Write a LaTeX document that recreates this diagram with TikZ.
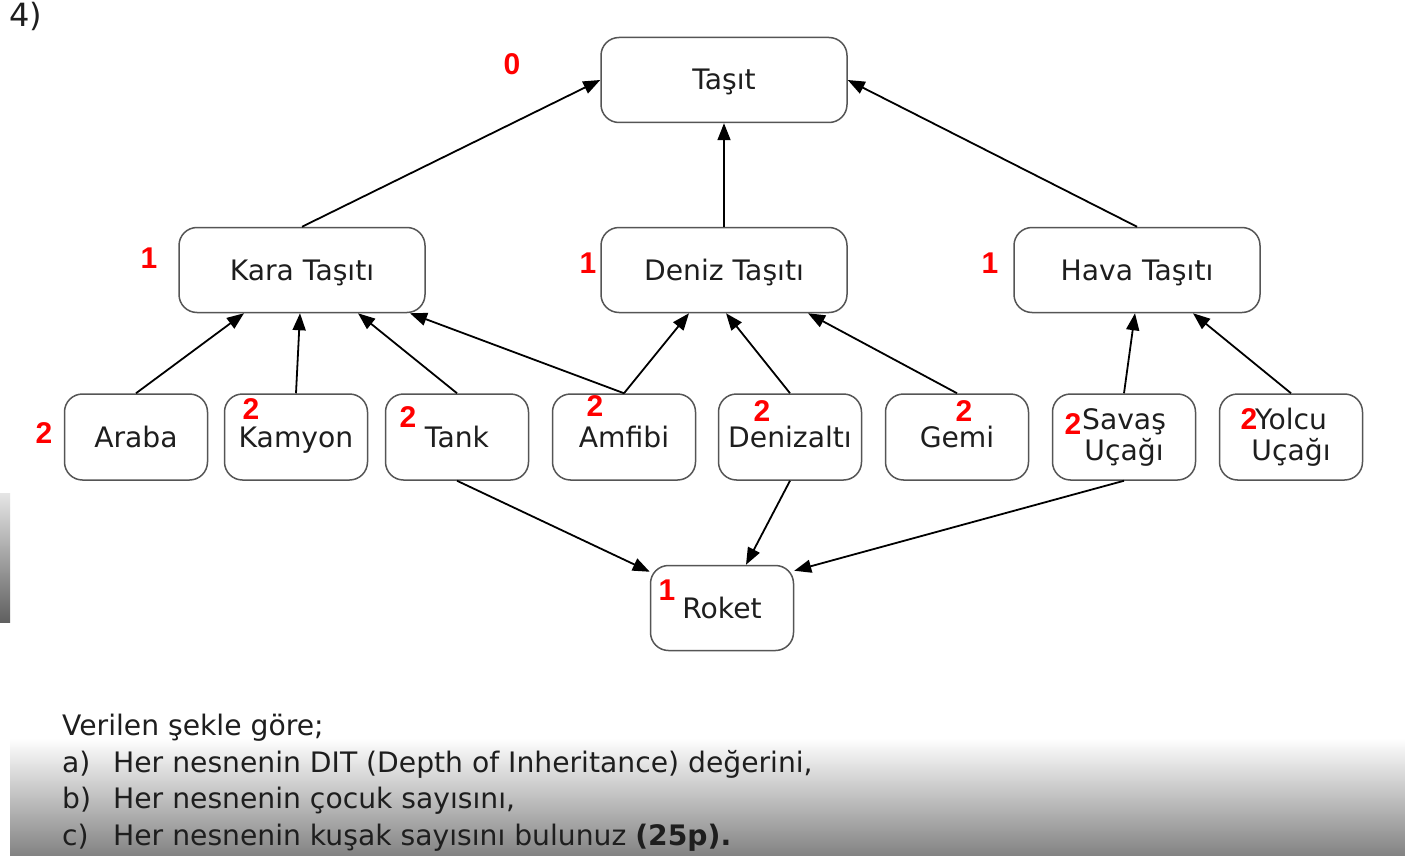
\documentclass[tikz,border=0pt]{standalone}
\usepackage{fontspec}
\setmainfont{DejaVu Sans}
\newfontfamily\numfont{Liberation Sans}
\usetikzlibrary{arrows.meta, calc}

\definecolor{boxgray}{RGB}{85,85,85}
\definecolor{shadegray}{RGB}{130,130,130}
\definecolor{textgray}{RGB}{30,30,30}

\tikzset{
  classbox/.style={draw=boxgray, line width=1.5pt, rounded corners=18pt, fill=white,
    align=center, text=textgray, font=\fontsize{28.2}{31}\selectfont},
  bigbox/.style={classbox, minimum width=246pt, minimum height=85pt, text height=20pt, text depth=0pt},
  twolinebox/.style={classbox, minimum width=143pt, minimum height=86pt},
  smallbox/.style={twolinebox, text height=20pt, text depth=0pt},
  inherit/.style={-{Triangle[length=17pt,width=13pt]}, line width=1.8pt},
  level/.style={text=red, inner sep=0pt, font=\numfont\bfseries\fontsize{30}{30}\selectfont},
  question/.style={anchor=base west, inner sep=0pt, text=textgray, font=\fontsize{28.2}{32}\selectfont}
}

\begin{document}
\begin{tikzpicture}[x=1pt, y=-1pt]
	\useasboundingbox (0,0) rectangle (1405,856);

	% Background
	\fill[white] (0,0) rectangle (1405,856);
	\shade[top color=white, bottom color=shadegray] (10,738) rectangle (1405,856);
	\shade[top color=gray!20, bottom color=gray!75!black] (0,493) rectangle (10,622);

	\node[anchor=north west, inner sep=0pt, text=textgray, font=\fontsize{32}{36}\selectfont] (num) at (9,2) {4)};

	% Boxes
	\node[bigbox] (tasit) at (724,80) {Taşıt};
	\node[bigbox] (kara) at (302,270) {Kara Taşıtı};
	\node[bigbox] (deniz) at (724,270) {Deniz Taşıtı};
	\node[bigbox] (hava) at (1137,270) {Hava Taşıtı};

	\node[smallbox] (araba) at (136,437) {Araba};
	\node[smallbox] (kamyon) at (296,437) {Kamyon};
	\node[smallbox] (tank) at (457,437) {Tank};
	\node[smallbox] (amfibi) at (624,437) {Amfibi};
	\node[smallbox] (denizalti) at (790,437) {Denizaltı};
	\node[smallbox] (gemi) at (957,437) {Gemi};
	\node[twolinebox] (savas) at (1124,437) {Savaş\\Uçağı};
	\node[twolinebox] (yolcu) at (1291,437) {Yolcu\\Uçağı};

	\node[smallbox, minimum height=85pt] (roket) at (722,608) {Roket};

	% Arrows
	\draw[inherit] (kara.north) -- (tasit.west);
	\draw[inherit] (deniz.north) -- (tasit.south);
	\draw[inherit] (hava.north) -- (tasit.east);

	\draw[inherit] (araba.north) -- ($(kara.south)+(-58,0)$);
	\draw[inherit] (kamyon.north) -- ($(kara.south)+(-2,0)$);
	\draw[inherit] (tank.north) -- ($(kara.south)+(56,0)$);
	\draw[inherit] (amfibi.north) -- ($(kara.south)+(108,0)$);

	\draw[inherit] (amfibi.north) -- ($(deniz.south)+(-35,0)$);
	\draw[inherit] (denizalti.north) -- ($(deniz.south)+(2,0)$);
	\draw[inherit] (gemi.north) -- ($(deniz.south)+(84,0)$);

	\draw[inherit] (savas.north) -- ($(hava.south)+(-2,0)$);
	\draw[inherit] (yolcu.north) -- ($(hava.south)+(56,0)$);

	\draw[inherit] (tank.south) -- ($(roket.north west)+(0,7)$);
	\draw[inherit] (denizalti.south) -- ($(roket.north)+(24,0)$);
	\draw[inherit] (savas.south) -- ($(roket.north east)+(0,6)$);

	% DIT values
	\node[level] (l0) at (512,64) {0};
	\node[level] (lkara) at (149,258) {1};
	\node[level] (ldeniz) at (588,263) {1};
	\node[level] (lhava) at (990,263) {1};
	\node[level] (laraba) at (44,433) {2};
	\node[level] (lkamyon) at (251,409) {2};
	\node[level] (ltank) at (408,417) {2};
	\node[level] (lamfibi) at (595,406) {2};
	\node[level] (ldenizalti) at (762,411) {2};
	\node[level] (lgemi) at (964,411) {2};
	\node[level] (lsavas) at (1073,424) {2};
	\node[level] (lyolcu) at (1249,419) {2};
	\node[level] (lroket) at (667,590) {1};

	% Question
	\node[question] (q0) at (62,735) {Verilen şekle göre;};
	\node[question] (qa) at (62,772) {\makebox[51pt][l]{a)}Her nesnenin DIT (Depth of Inheritance) değerini,};
	\node[question] (qb) at (62,808) {\makebox[51pt][l]{b)}Her nesnenin çocuk sayısını,};
	\node[question] (qc) at (62,845) {\makebox[51pt][l]{c)}Her nesnenin kuşak sayısını bulunuz \textbf{(25p).}};
\end{tikzpicture}
\end{document}
